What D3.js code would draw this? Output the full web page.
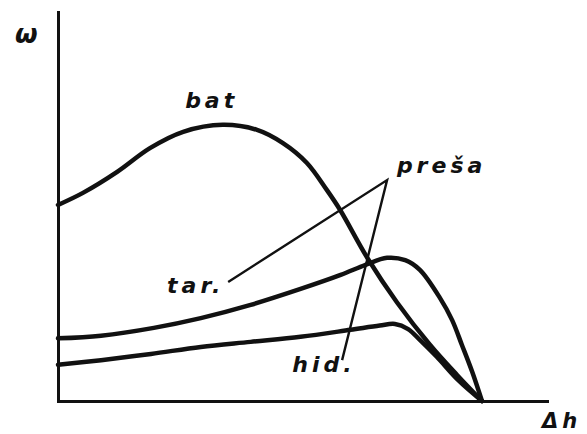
<!DOCTYPE html>
<html>
<head>
<meta charset="utf-8">
<script src="https://cdn.jsdelivr.net/npm/d3@7"></script>
<style>
  html, body { margin: 0; padding: 0; background: #ffffff; }
  svg { display: block; }
  .lbl { font-family: "DejaVu Sans", sans-serif; font-weight: bold; font-style: oblique; fill: #111; }
</style>
</head>
<body>
<svg id="chart" width="587" height="434"></svg>
<script>
// ---- data (x = Δh, y = ω, arbitrary units 0..100) ----
const batX = [0, 5.1, 12.1, 18.8, 25.6, 33.7, 40.7, 46.0, 50.9, 55.0, 57.7, 63.4, 69.3, 76.1, 81.6, 86.7];
const batY = [50.4, 53.5, 58.9, 65.0, 69.2, 71.0, 69.7, 66.3, 61.2, 54.2, 49.1, 36.5, 25.4, 14.4, 6.7, 0];

const tarX = [0, 8.8, 19.6, 29.2, 39.4, 49.6, 57.8, 62.9, 67.3, 71.0, 74.0, 78.1, 80.6, 82.6, 84.7, 86.7];
const tarY = [16.1, 16.8, 18.8, 21.3, 24.7, 28.8, 32.4, 35.0, 36.8, 36.2, 33.7, 26.5, 20.8, 14.4, 7.5, 0];

const hidX = [0, 8.8, 19.0, 29.2, 39.4, 49.6, 59.8, 65.8, 68.9, 71.6, 74.0, 77.5, 81.8, 86.7];
const hidY = [9.3, 10.5, 12.1, 13.9, 15.2, 16.5, 18.3, 19.4, 19.8, 18.5, 15.7, 11.3, 5.4, 0];

// leader lines: from label to common apex
const leaderApex = [67.3, 56.8];
const tarLeaderStart = [34.8, 30.6];
const hidLeaderEnd = [58.1, 10.5];

// labels and their anchor points (data units)
const labelText = ["bat", "preša", "tar.", "hid."];
const labelX = [26.0, 69.3, 22.3, 47.9];
const labelY = [75.3, 58.6, 27.8, 7.5];

const yTitle = "ω";
const xTitle = "Δh";

// ---- drawing ----
const svg = d3.select("#chart");
const x = d3.scaleLinear().domain([0, 100]).range([58, 547]);
const y = d3.scaleLinear().domain([0, 100]).range([401, 12]);

const line = d3.line()
  .x(d => x(d[0]))
  .y(d => y(d[1]))
  .curve(d3.curveCatmullRom.alpha(0.5));

const straight = d3.line().x(d => x(d[0])).y(d => y(d[1]));

// axes (no ticks)
const gx = svg.append("g")
  .attr("transform", `translate(0,${y(0)})`)
  .call(d3.axisBottom(x).tickValues([]).tickSizeOuter(0));
const gy = svg.append("g")
  .attr("transform", `translate(${x(0)},0)`)
  .call(d3.axisLeft(y).tickValues([]).tickSizeOuter(0));
[gx, gy].forEach(g => g.select(".domain")
  .attr("stroke", "#111").attr("stroke-width", 3).attr("stroke-linecap", "square"));

// curves
const series = [
  d3.zip(tarX, tarY),
  d3.zip(hidX, hidY),
  d3.zip(batX, batY)
];
svg.selectAll("path.curve")
  .data(series)
  .enter().append("path")
  .attr("class", "curve")
  .attr("d", line)
  .attr("fill", "none")
  .attr("stroke", "#111")
  .attr("stroke-width", 4.5)
  .attr("stroke-linejoin", "round")
  .attr("stroke-linecap", "round");

// leaders
svg.append("path")
  .attr("d", straight([tarLeaderStart, leaderApex, hidLeaderEnd]))
  .attr("fill", "none")
  .attr("stroke", "#111")
  .attr("stroke-width", 2.4)
  .attr("stroke-linejoin", "miter");

// labels
svg.selectAll("text.curve-label")
  .data(labelText)
  .enter().append("text")
  .attr("class", "lbl curve-label")
  .attr("x", (d, i) => x(labelX[i]))
  .attr("y", (d, i) => y(labelY[i]))
  .attr("font-size", 22)
  .attr("letter-spacing", 4)
  .text(d => d);

// axis titles
svg.append("text")
  .attr("class", "lbl")
  .attr("x", x(0) - 43)
  .attr("y", y(100) + 31)
  .attr("font-size", 26)
  .text(yTitle);

svg.append("text")
  .attr("class", "lbl")
  .attr("x", x(100) - 5)
  .attr("y", y(0) + 27)
  .attr("font-size", 21)
  .attr("letter-spacing", 4)
  .text(xTitle);
</script>
</body>
</html>
